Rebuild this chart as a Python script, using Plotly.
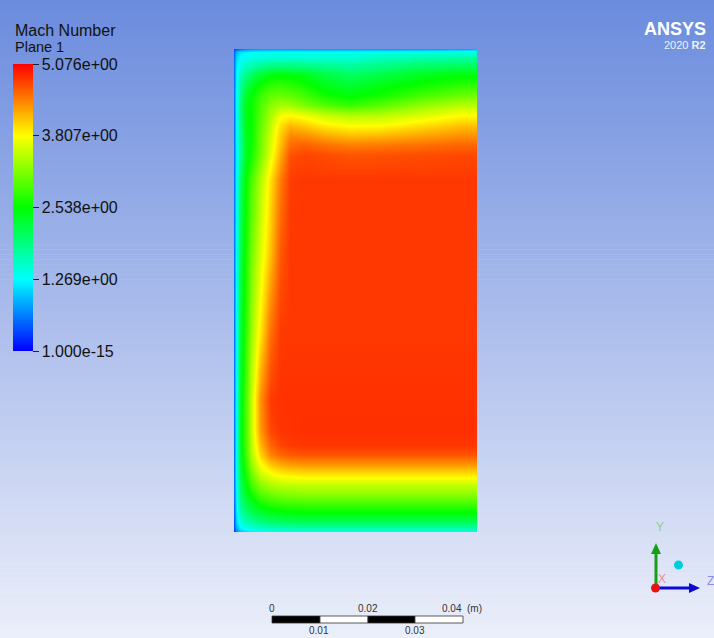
import plotly.graph_objects as go

# ---- Mach number sampled on Plane 1 (x across the channel, y up), in mm ----
x_mm = [0, 0.4, 1.2, 2.3, 3.7, 5.3, 7.4, 9.5, 11.5, 14.6, 18.7, 23.9, 30.0, 38.3, 46.5, 50]
y_mm = [0, 0.8, 2.1, 3.5, 5.6, 7.7, 9.7, 11.8, 13.9, 15.9, 18.0, 21.1, 27.3, 41.8,
        58.4, 72.9, 78.0, 80.1, 82.2, 84.3, 86.3, 88.4, 90.5, 92.5, 94.6, 96.5,
        98.1, 99.4, 100]

# one row per y_mm entry (bottom wall first), one value per x_mm entry
mach = [
    [0.30, 0.60, 0.90, 1.05, 1.15, 1.20, 1.25, 1.28, 1.30, 1.30, 1.30, 1.30, 1.30, 1.30, 1.30, 1.30],
    [0.40, 0.85, 1.20, 1.35, 1.45, 1.52, 1.58, 1.62, 1.66, 1.70, 1.70, 1.70, 1.70, 1.70, 1.70, 1.70],
    [0.45, 1.00, 1.40, 1.60, 1.75, 1.88, 1.98, 2.03, 2.07, 2.10, 2.10, 2.10, 2.10, 2.10, 2.10, 2.10],
    [0.50, 1.10, 1.60, 1.85, 2.05, 2.20, 2.30, 2.36, 2.40, 2.42, 2.42, 2.42, 2.42, 2.42, 2.42, 2.42],
    [0.55, 1.15, 1.80, 2.10, 2.35, 2.55, 2.68, 2.75, 2.78, 2.80, 2.80, 2.80, 2.80, 2.80, 2.80, 2.80],
    [0.60, 1.20, 1.95, 2.30, 2.60, 2.90, 3.05, 3.13, 3.17, 3.20, 3.20, 3.20, 3.20, 3.20, 3.20, 3.20],
    [0.60, 1.25, 2.05, 2.45, 2.90, 3.20, 3.38, 3.45, 3.48, 3.50, 3.50, 3.50, 3.50, 3.50, 3.50, 3.50],
    [0.60, 1.28, 2.15, 2.60, 3.10, 3.50, 3.72, 3.82, 3.87, 3.90, 3.90, 3.90, 3.90, 3.90, 3.90, 3.90],
    [0.60, 1.30, 2.25, 2.70, 3.30, 3.75, 4.05, 4.20, 4.27, 4.30, 4.30, 4.30, 4.30, 4.30, 4.30, 4.30],
    [0.60, 1.30, 2.30, 2.80, 3.45, 4.00, 4.40, 4.55, 4.62, 4.65, 4.65, 4.65, 4.65, 4.65, 4.65, 4.65],
    [0.60, 1.30, 2.33, 2.83, 3.52, 4.15, 4.57, 4.73, 4.79, 4.81, 4.81, 4.81, 4.81, 4.81, 4.81, 4.81],
    [0.60, 1.30, 2.35, 2.85, 3.60, 4.30, 4.72, 4.82, 4.83, 4.84, 4.84, 4.84, 4.84, 4.84, 4.84, 4.84],
    [0.60, 1.30, 2.30, 2.85, 3.60, 4.35, 4.78, 4.83, 4.83, 4.83, 4.83, 4.83, 4.83, 4.83, 4.83, 4.83],
    [0.60, 1.30, 2.22, 2.70, 3.35, 3.90, 4.50, 4.78, 4.80, 4.80, 4.80, 4.80, 4.80, 4.80, 4.80, 4.80],
    [0.60, 1.30, 2.12, 2.60, 3.15, 3.60, 4.10, 4.62, 4.80, 4.80, 4.80, 4.80, 4.80, 4.80, 4.80, 4.80],
    [0.60, 1.25, 2.00, 2.50, 2.95, 3.40, 3.95, 4.45, 4.78, 4.80, 4.80, 4.80, 4.80, 4.80, 4.80, 4.80],
    [0.60, 1.20, 1.75, 2.35, 2.66, 3.12, 3.67, 4.22, 4.68, 4.74, 4.70, 4.66, 4.68, 4.70, 4.72, 4.72],
    [0.60, 1.22, 1.77, 2.35, 2.64, 3.08, 3.60, 4.12, 4.55, 4.60, 4.52, 4.45, 4.48, 4.52, 4.58, 4.58],
    [0.60, 1.25, 1.80, 2.38, 2.62, 3.05, 3.55, 4.05, 4.40, 4.35, 4.22, 4.12, 4.15, 4.25, 4.35, 4.35],
    [0.60, 1.25, 1.85, 2.40, 2.60, 3.00, 3.45, 3.95, 4.15, 4.05, 3.88, 3.78, 3.80, 3.95, 4.10, 4.10],
    [0.60, 1.25, 1.90, 2.40, 2.60, 2.95, 3.35, 3.75, 3.82, 3.70, 3.52, 3.42, 3.45, 3.62, 3.80, 3.80],
    [0.60, 1.25, 1.90, 2.40, 2.60, 2.90, 3.20, 3.35, 3.33, 3.15, 2.95, 2.80, 2.98, 3.25, 3.45, 3.45],
    [0.60, 1.25, 1.85, 2.30, 2.55, 2.80, 3.00, 3.05, 3.00, 2.85, 2.60, 2.48, 2.62, 2.85, 3.05, 3.10],
    [0.60, 1.22, 1.75, 2.10, 2.40, 2.60, 2.75, 2.80, 2.75, 2.62, 2.42, 2.30, 2.45, 2.60, 2.75, 2.75],
    [0.60, 1.20, 1.60, 1.85, 2.10, 2.30, 2.48, 2.52, 2.50, 2.42, 2.22, 2.08, 2.20, 2.40, 2.50, 2.50],
    [0.60, 1.15, 1.42, 1.55, 1.70, 1.82, 1.92, 1.95, 1.95, 1.92, 1.85, 1.78, 1.90, 2.05, 2.12, 2.12],
    [0.55, 1.05, 1.28, 1.36, 1.42, 1.45, 1.48, 1.50, 1.50, 1.50, 1.50, 1.50, 1.60, 1.70, 1.75, 1.75],
    [0.50, 0.90, 1.15, 1.22, 1.28, 1.30, 1.32, 1.33, 1.33, 1.33, 1.35, 1.35, 1.38, 1.40, 1.42, 1.42],
    [0.30, 0.50, 0.60, 0.70, 0.75, 0.80, 0.80, 0.80, 0.80, 0.80, 0.80, 0.80, 0.80, 0.80, 0.85, 0.90],
]

# legend range and labels
mach_min = 1e-15
mach_max = 5.076
legend_vals = [1e-15, 1.269, 2.538, 3.807, 5.076]
legend_text = ["1.000e-15", "1.269e+00", "2.538e+00", "3.807e+00", "5.076e+00"]

# ruler labels (m)
ruler_top = ["0", "0.02", "0.04"]
ruler_bottom = ["0.01", "0.03"]

W, H = 714, 638
FONT = "Liberation Sans, Arial, sans-serif"


def px(x):
    return x / W


def py(y):
    return 1 - y / H


rainbow = [[0.0, "rgb(0,0,255)"], [0.25, "rgb(0,255,255)"], [0.5, "rgb(0,255,0)"],
           [0.75, "rgb(255,255,0)"], [1.0, "rgb(255,0,0)"]]

fig = go.Figure()
fig.add_trace(go.Heatmap(
    x=x_mm, y=y_mm, z=mach,
    zmin=mach_min, zmax=mach_max,
    colorscale=rainbow, zsmooth="best", hoverinfo="skip",
    colorbar=dict(
        x=px(13), xanchor="left", xpad=0,
        y=py(64), yanchor="top", ypad=0,
        thickness=20, thicknessmode="pixels",
        len=287, lenmode="pixels",
        tickmode="array", tickvals=legend_vals, ticktext=legend_text,
        ticks="outside", ticklen=6, tickwidth=1, tickcolor="#222",
        tickfont=dict(family=FONT, size=16, color="#111"),
        outlinewidth=0,
    ),
))

shapes = []
# vertical background gradient
n = 128
top_c = (106, 139, 221)
bot_c = (236, 239, 250)
for i in range(n):
    t = (i + 0.5) / n
    c = tuple(round(top_c[k] + (bot_c[k] - top_c[k]) * t) for k in range(3))
    shapes.append(dict(type="rect", xref="paper", yref="paper", layer="below",
                       x0=0, x1=1, y0=1 - (i + 1) / n - 0.001, y1=1 - i / n,
                       line=dict(width=0), fillcolor="rgb(%d,%d,%d)" % c))

# ruler
seg = [(272, 320, "black"), (320, 368, "white"), (368, 415, "black"), (415, 463, "white")]
for a, b, col in seg:
    shapes.append(dict(type="rect", xref="paper", yref="paper",
                       x0=px(a), x1=px(b), y0=py(623), y1=py(616),
                       fillcolor=col, line=dict(color="#333", width=0.8)))

# axis triad
shapes.append(dict(type="line", xref="paper", yref="paper", x0=px(656), y0=py(588),
                   x1=px(656), y1=py(552), line=dict(color="rgb(20,160,20)", width=3)))
shapes.append(dict(type="path", xref="paper", yref="paper",
                   path="M %f,%f L %f,%f L %f,%f Z" % (px(651), py(554), px(661), py(554), px(656), py(543)),
                   fillcolor="rgb(20,160,20)", line=dict(width=0)))
shapes.append(dict(type="line", xref="paper", yref="paper", x0=px(656), y0=py(588),
                   x1=px(690), y1=py(588), line=dict(color="rgb(10,10,210)", width=3)))
shapes.append(dict(type="path", xref="paper", yref="paper",
                   path="M %f,%f L %f,%f L %f,%f Z" % (px(689), py(583), px(689), py(593), px(700), py(588)),
                   fillcolor="rgb(10,10,210)", line=dict(width=0)))
shapes.append(dict(type="circle", xref="paper", yref="paper",
                   x0=px(651), x1=px(660), y0=py(592.5), y1=py(583.5),
                   fillcolor="rgb(230,20,20)", line=dict(width=0)))
shapes.append(dict(type="circle", xref="paper", yref="paper",
                   x0=px(674), x1=px(683), y0=py(569.5), y1=py(560.5),
                   fillcolor="rgb(0,205,220)", line=dict(width=0)))

ann = []
ann.append(dict(x=px(13), y=py(30), xref="paper", yref="paper", xanchor="left", yanchor="middle",
                text="Mach Number", showarrow=False, font=dict(family=FONT, size=16, color="#111")))
ann.append(dict(x=px(13), y=py(46.5), xref="paper", yref="paper", xanchor="left", yanchor="middle",
                text="Plane 1", showarrow=False, font=dict(family=FONT, size=14.5, color="#111")))
ann.append(dict(x=px(708), y=py(29), xref="paper", yref="paper", xanchor="right", yanchor="middle",
                text="<b>ANSYS</b>", showarrow=False,
                font=dict(family="Liberation Sans, Arial, sans-serif", size=18, color="white")))
ann.append(dict(x=px(708), y=py(45), xref="paper", yref="paper", xanchor="right", yanchor="middle",
                text="2020 <b>R2</b>", showarrow=False,
                font=dict(family="Liberation Sans, Arial, sans-serif", size=11, color="#eef1fb")))
# ruler labels
for lab, xx in zip(ruler_top, [272, 368, 452]):
    ann.append(dict(x=px(xx), y=py(608), xref="paper", yref="paper", xanchor="center", yanchor="middle",
                    text=lab, showarrow=False, font=dict(family=FONT, size=10, color="#333")))
ann.append(dict(x=px(474), y=py(608), xref="paper", yref="paper", xanchor="center", yanchor="middle",
                text="(m)", showarrow=False, font=dict(family=FONT, size=10, color="#333")))
for lab, xx in zip(ruler_bottom, [319, 415]):
    ann.append(dict(x=px(xx), y=py(630), xref="paper", yref="paper", xanchor="center", yanchor="middle",
                    text=lab, showarrow=False, font=dict(family=FONT, size=10, color="#333")))
# triad labels
ann.append(dict(x=px(660), y=py(527), xref="paper", yref="paper", xanchor="center", yanchor="middle",
                text="Y", showarrow=False, font=dict(family=FONT, size=12, color="rgb(140,205,140)")))
ann.append(dict(x=px(662), y=py(579), xref="paper", yref="paper", xanchor="center", yanchor="middle",
                text="X", showarrow=False, font=dict(family=FONT, size=12, color="rgb(235,140,150)")))
ann.append(dict(x=px(710), y=py(581), xref="paper", yref="paper", xanchor="center", yanchor="middle",
                text="Z", showarrow=False, font=dict(family=FONT, size=12, color="rgb(140,140,230)")))

fig.update_layout(
    width=W, height=H,
    margin=dict(l=0, r=0, t=0, b=0),
    paper_bgcolor="white", plot_bgcolor="rgba(0,0,0,0)",
    shapes=shapes, annotations=ann,
    xaxis=dict(domain=[px(234), px(477)], range=[0, 50], visible=False, fixedrange=True),
    yaxis=dict(domain=[py(532), py(49)], range=[0, 100], visible=False, fixedrange=True),
    showlegend=False,
)

fig.write_html("out.html", config={"displayModeBar": False})
